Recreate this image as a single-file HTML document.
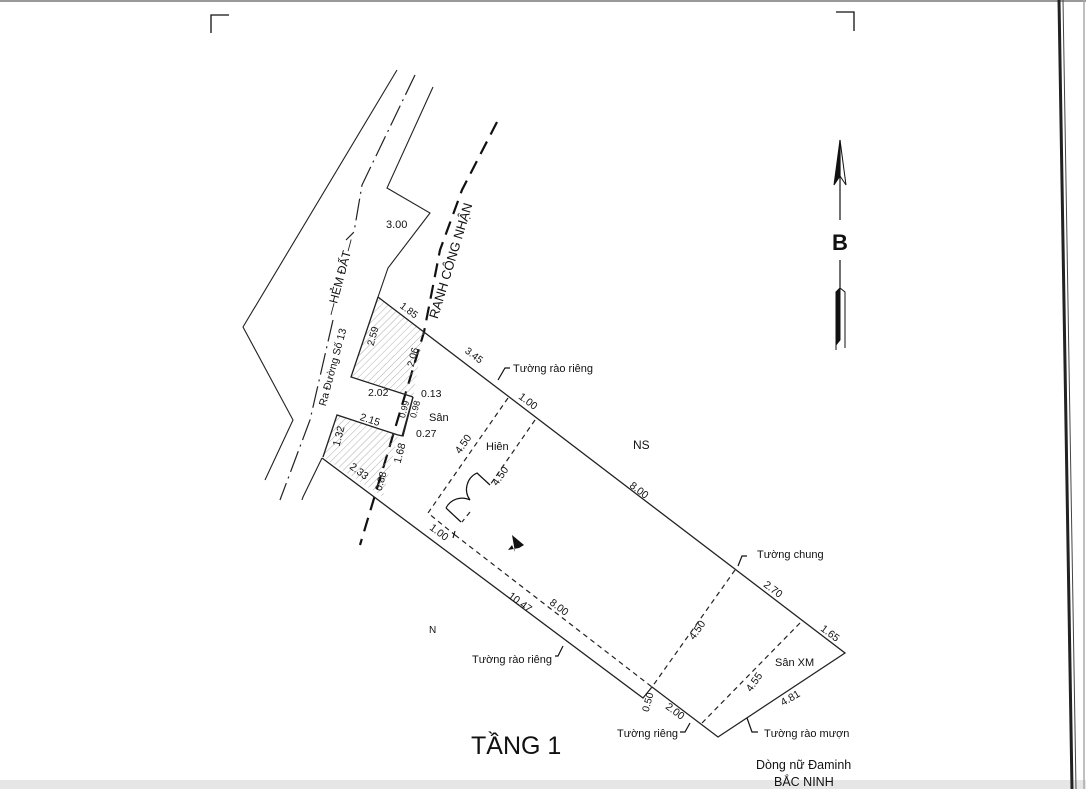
<!DOCTYPE html>
<html><head><meta charset="utf-8"><style>
html,body{margin:0;padding:0;background:#fff;width:1086px;height:789px;overflow:hidden}
svg{display:block}
text{font-family:"Liberation Sans",sans-serif;fill:#111}
</style></head><body>
<svg width="1086" height="789" viewBox="0 0 1086 789" xmlns="http://www.w3.org/2000/svg">
<rect x="0" y="0" width="1086" height="2" fill="#999"/>
<rect x="0" y="780" width="1086" height="9" fill="#e6e6e6"/>
<path d="M1059 0 L1072 789" stroke="#222" stroke-width="3" fill="none"/>
<path d="M1063 0 L1076 789" stroke="#444" stroke-width="1" fill="none"/>
<path d="M1084 0 L1084 789" stroke="#aaa" stroke-width="1.5"/>
<g stroke="#111" stroke-width="1.3" fill="none">
<path d="M211 33 V15 H229"/>
<path d="M836 12 H854 V31"/>
</g>
<g stroke="#111" fill="none">
<path d="M840 140 L840 220" stroke-width="1.2"/>
<path d="M840 140 L834 185 L840 176 Z" fill="#111"/>
<path d="M840 140 L846 185 L840 176" stroke-width="1"/>
<path d="M840 260 L840 288" stroke-width="1.2"/>
<path d="M840 288 L836 292 L836 345 L840 340 Z" fill="#111"/>
<path d="M840 288 L845 292 L845 348 M836 345 L836 350" stroke-width="1"/>
</g>
<text x="832" y="250" font-size="22" font-weight="bold">B</text>
<g stroke="#222" stroke-width="1.1" fill="none">
<path d="M397 70 L243 327 L293 420 L265 480"/>
<path d="M433 87 L387 188 L430 213 L388 268 L378 297"/>
<path d="M322 458 L303 497 L302 500"/>
</g>
<path d="M415 75 L362 185 L354 232 L346 240" stroke="#222" stroke-width="1.2" fill="none" stroke-dasharray="22 5 2 5"/>
<path d="M333 320 L310 420 L280 500" stroke="#222" stroke-width="1.2" fill="none" stroke-dasharray="22 5 2 5"/>
<path d="M497 122 L462 190 L440 250 L424 332 L360 545" stroke="#111" stroke-width="2.2" fill="none" stroke-dasharray="14 8"/>
<defs><pattern id="h" width="5" height="5" patternUnits="userSpaceOnUse" patternTransform="rotate(45)"><line x1="0" y1="0" x2="0" y2="5" stroke="#999" stroke-width="0.8"/></pattern></defs>
<path d="M378 297 L351 377 L413 397 L424 332 Z" fill="url(#h)"/>
<path d="M337 415 L323 457 L383 497 L398 435 Z" fill="url(#h)"/>
<g stroke="#222" stroke-width="1.3" fill="none">
<path d="M378 297 L351 377 L413 397"/>
<path d="M413 397 L403 436 M413 397 L402 436"/>
<path d="M398 435 L337 415 L323 457"/>
<path d="M378 297 L845 653 L718 737 L652 687 L643 698 L322 458"/>
</g>
<path d="M413 397 L403 436 L398 435" stroke="#222" stroke-width="1.2" fill="none"/>
<g stroke="#222" stroke-width="1.2" fill="none" stroke-dasharray="5 4">
<path d="M508 398 L428 513 L455 535"/>
<path d="M535 420 L490 485"/>
<path d="M470 512 L462 522"/>
<path d="M455 535 L652 687"/>
<path d="M735 570 L652 687"/>
<path d="M800 623 L702 723"/>
</g>
<g stroke="#111" stroke-width="1.2" fill="none">
<path d="M446 508 L461 522 M446 508 A18 18 0 0 1 470 500"/>
<path d="M490 485 L477 473 A18 18 0 0 0 470 500"/>
<path d="M455 531 L453 538"/>
<path d="M498 380 L505 368 H510"/>
<path d="M563 646 L558 656 H555"/>
<path d="M738 566 L742 556 H747"/>
<path d="M690 723 L685 732 H680"/>
<path d="M747 718 L752 732 H758"/>
</g>
<path d="M512 535 L515 552 L512 545 L508 550 L519 548 L524 545 Z" fill="#111"/>
<text x="386" y="228" font-size="11">3.00</text>
<g font-size="11">
<text transform="translate(344,278) rotate(-75)" text-anchor="middle" font-size="12">—HẺM ĐẤT—</text>
<text transform="translate(336,368) rotate(-75)" text-anchor="middle" font-size="10.5">Ra Đường Số 13</text>
<text transform="translate(455,262) rotate(-73)" text-anchor="middle" font-size="13">RANH CÔNG NHẬN</text>
<text transform="translate(407,313) rotate(37)" text-anchor="middle" font-size="10">1.85</text>
<text transform="translate(376,337) rotate(-75)" text-anchor="middle" font-size="10">2.59</text>
<text transform="translate(416,358) rotate(-75)" text-anchor="middle" font-size="10">2.06</text>
<text transform="translate(472,358) rotate(37)" text-anchor="middle" font-size="10">3.45</text>
<text x="513" y="372" font-size="11">Tường rào riêng</text>
<text x="368" y="396" font-size="10.5">2.02</text>
<text x="421" y="397" font-size="10.5">0.13</text>
<text transform="translate(407,410) rotate(-75)" text-anchor="middle" font-size="9">0.99</text>
<text transform="translate(418,410) rotate(-75)" text-anchor="middle" font-size="9">0.98</text>
<text x="429" y="421" font-size="11">Sân</text>
<text x="416" y="437" font-size="10.5">0.27</text>
<text transform="translate(369,423) rotate(18)" text-anchor="middle" font-size="10.5">2.15</text>
<text transform="translate(342,437) rotate(-75)" text-anchor="middle" font-size="10.5">1.32</text>
<text transform="translate(403,454) rotate(-75)" text-anchor="middle" font-size="10.5">1.68</text>
<text transform="translate(357,474) rotate(37)" text-anchor="middle" font-size="10.5">2.33</text>
<text transform="translate(384,482) rotate(-75)" text-anchor="middle" font-size="10">0.88</text>
<text transform="translate(526,404) rotate(37)" text-anchor="middle" font-size="10.5">1.00</text>
<text transform="translate(466,446) rotate(-55)" text-anchor="middle" font-size="10.5">4.50</text>
<text x="486" y="450" font-size="11">Hiên</text>
<text transform="translate(503,478) rotate(-55)" text-anchor="middle" font-size="10.5">4.50</text>
<text x="633" y="449" font-size="12">NS</text>
<text transform="translate(637,493) rotate(37)" text-anchor="middle" font-size="10.5">8.00</text>
<text transform="translate(437,535) rotate(37)" text-anchor="middle" font-size="10.5">1.00</text>
<text x="757" y="558" font-size="11">Tường chung</text>
<text transform="translate(771,592) rotate(37)" text-anchor="middle" font-size="10.5">2.70</text>
<text transform="translate(518,605) rotate(37)" text-anchor="middle" font-size="10.5">10.47</text>
<text transform="translate(557,610) rotate(37)" text-anchor="middle" font-size="10.5">8.00</text>
<text transform="translate(700,632) rotate(-55)" text-anchor="middle" font-size="10.5">4.50</text>
<text transform="translate(828,636) rotate(37)" text-anchor="middle" font-size="10.5">1.65</text>
<text x="429" y="633" font-size="10">N</text>
<text x="775" y="666" font-size="11">Sân XM</text>
<text x="472" y="663" font-size="11">Tường rào riêng</text>
<text transform="translate(757,684) rotate(-55)" text-anchor="middle" font-size="10.5">4.55</text>
<text transform="translate(792,701) rotate(-30)" text-anchor="middle" font-size="10.5">4.81</text>
<text transform="translate(651,703) rotate(-75)" text-anchor="middle" font-size="10">0.50</text>
<text transform="translate(673,714) rotate(37)" text-anchor="middle" font-size="10.5">2.00</text>
<text x="617" y="737" font-size="11">Tường riêng</text>
<text x="764" y="737" font-size="11">Tường rào mượn</text>
<text x="471" y="754" font-size="25">TẦNG 1</text>
<text x="756" y="769" font-size="12.5">Dòng nữ Đaminh</text>
<text x="774" y="786" font-size="12.5">BẮC NINH</text>
</g>
</svg>
</body></html>
